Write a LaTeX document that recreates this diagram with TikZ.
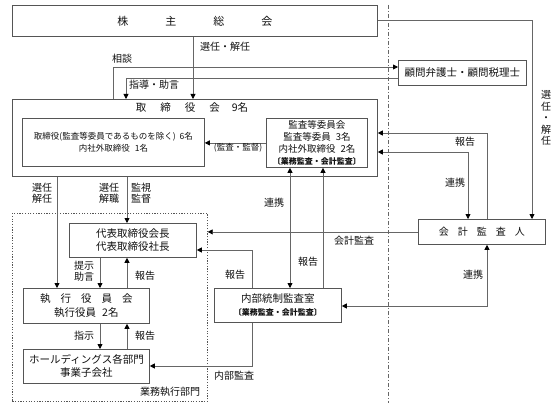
\documentclass[tikz,border=0pt]{standalone}
\usepackage{fontspec}
\setmainfont{Noto Sans CJK JP}
\usetikzlibrary{arrows.meta}
\definecolor{ln}{HTML}{666666}
\definecolor{bx}{HTML}{555555}
\definecolor{tx}{HTML}{111111}
\begin{document}
\begin{tikzpicture}[x=1pt,y=-1pt,
 box/.style={draw=bx,line width=0.8pt,anchor=north west,inner sep=0pt,align=center,text=tx},
 lbl/.style={text=tx,inner sep=0pt,font=\fontsize{10}{11.5}\selectfont,align=center},
 con/.style={draw=ln,line width=0.8pt},
 arr/.style={con,-{Triangle[length=5pt,width=5pt,color=black]}},
 darr/.style={con,{Triangle[length=5pt,width=5pt,color=black]}-{Triangle[length=5pt,width=5pt,color=black]}},
]
\useasboundingbox[fill=white] (0,0) rectangle (556,409);

% boxes
\node[box,minimum width=365pt,minimum height=31pt,font=\fontsize{11}{13}\selectfont] (gm) at (12,5)
  {株\hspace{37pt}主\hspace{37pt}総\hspace{37pt}会};
\node[box,minimum width=365pt,minimum height=77pt] (bd) at (12,99) {};
\node[lbl,font=\fontsize{10.5}{12}\selectfont] (bdt) at (192,108)
  {取\hspace{14pt}締\hspace{14pt}役\hspace{14pt}会\hspace{12pt}9名};
\node[box,minimum width=182pt,minimum height=48pt,font=\fontsize{8.5}{11.5}\selectfont] (inl) at (22,118)
  {取締役(監査等委員であるものを除く)\hspace{4pt}6名\\内社外取締役\hspace{5pt}1名};
\node[box,minimum width=101pt,minimum height=49pt,font=\fontsize{9.5}{12.3}\selectfont] (inr) at (266,118)
  {監査等委員会\\監査等委員\hspace{5pt}3名\\内社外取締役\hspace{5pt}2名\\{\fontsize{8}{12.3}\selectfont\bfseries 〔業務監査・会計監査〕}};
\node[box,minimum width=128pt,minimum height=25pt,font=\fontsize{10.5}{12}\selectfont] (adv) at (398,60)
  {顧問弁護士・顧問税理士};
\node[box,minimum width=127pt,minimum height=25pt,font=\fontsize{10}{12}\selectfont] (af) at (418,219)
  {会\hspace{9pt}計\hspace{9pt}監\hspace{9pt}査\hspace{9pt}人};
\node[draw=bx,dash pattern=on 1.2pt off 1.5pt,line width=0.7pt,minimum width=195pt,minimum height=188pt,
  anchor=north west,inner sep=0pt] (exe) at (12,213) {};
\node[box,minimum width=127pt,minimum height=34pt,font=\fontsize{10.5}{13}\selectfont] (rep) at (69,223)
  {代表取締役会長\\代表取締役社長};
\node[box,minimum width=126pt,minimum height=35pt,font=\fontsize{10.5}{14}\selectfont] (exec) at (23,288)
  {執\hspace{10pt}行\hspace{10pt}役\hspace{10pt}員\hspace{10pt}会\\執行役員\hspace{6pt}2名};
\node[box,minimum width=126pt,minimum height=34pt,font=\fontsize{10.5}{13}\selectfont] (hd) at (23,349)
  {ホールディングス各部門\\事業子会社};
\node[box,minimum width=127pt,minimum height=34pt,font=\fontsize{10.5}{13}\selectfont] (ia) at (214,288)
  {内部統制監査室\\{\fontsize{8}{13}\selectfont\bfseries 〔業務監査・会計監査〕}};

% dash-dot divider
\coordinate (dt) at (388,5);
\coordinate (db) at (388,403);
\draw[ln,line width=0.7pt,dash pattern=on 4pt off 2pt on 1pt off 2pt] (dt) -- (db);

% connectors
\draw[arr] (193,0 |- gm.south) -- (193,0 |- bd.north);
\draw[arr] (gm.east) -| (532,0 |- af.north);
\draw[arr] (113,0 |- bd.north) |- (adv.west |- 0,67);
\draw[arr] (adv.west |- 0,78) -| (126,0 |- bd.north);
\draw[arr] (inr.west) -- (inl.east |- inr.west);
\draw[arr] (487,0 |- af.north) |- (bd.east |- 0,133);
\draw[darr] (bd.east |- 0,152) -| (468,0 |- af.north);
\draw[arr] (af.west) -- (exe.east |- af.west);
\draw[arr] (57,0 |- bd.south) -- (57,0 |- exec.north);
\draw[arr] (127,0 |- bd.south) -- (127,0 |- rep.north);
\draw[darr] (290,0 |- inr.south) -- (290,0 |- ia.north);
\draw[arr] (323,0 |- ia.north) -- (323,0 |- inr.south);
\draw[darr] (487,0 |- af.south) |- (ia.east |- 0,306);
\draw[arr] (252,0 |- ia.north) |- (rep.east |- 0,250);
\draw[arr] (252,0 |- ia.south) |- (hd.east |- 0,366);
\draw[arr] (100,0 |- rep.south) -- (100,0 |- exec.north);
\draw[arr] (127,0 |- exec.north) -- (127,0 |- rep.south);
\draw[arr] (100,0 |- exec.south) -- (100,0 |- hd.north);
\draw[arr] (127,0 |- hd.north) -- (127,0 |- exec.south);

% labels
\node[lbl] (l1) at (225,47) {選任・解任};
\node[lbl] (l2) at (546,118) {選\\任\\・\\解\\任};
\node[lbl] (l3) at (122,59) {相談};
\node[lbl] (l4) at (154,85) {指導・助言};
\node[lbl,font=\fontsize{8.5}{10}\selectfont] (l5) at (238,148) {(監査・監督)};
\node[lbl] (l6) at (465,142) {報告};
\node[lbl] (l7) at (455,183) {連携};
\node[lbl] (l8) at (354,241) {会計監査};
\node[lbl] (l9) at (42,193) {選任\\解任};
\node[lbl] (l10) at (109,193) {選任\\解職};
\node[lbl] (l11) at (141,193) {監視\\監督};
\node[lbl] (l12) at (274,203) {連携};
\node[lbl] (l13) at (308,262) {報告};
\node[lbl] (l14) at (473,275) {連携};
\node[lbl] (l15) at (235,275) {報告};
\node[lbl] (l16) at (234,376) {内部監査};
\node[lbl] (l17) at (84,271) {提示\\助言};
\node[lbl] (l18) at (145,276) {報告};
\node[lbl] (l19) at (84,336) {指示};
\node[lbl] (l20) at (145,336) {報告};
\node[lbl] (l21) at (170,392) {業務執行部門};
\end{tikzpicture}
\end{document}
